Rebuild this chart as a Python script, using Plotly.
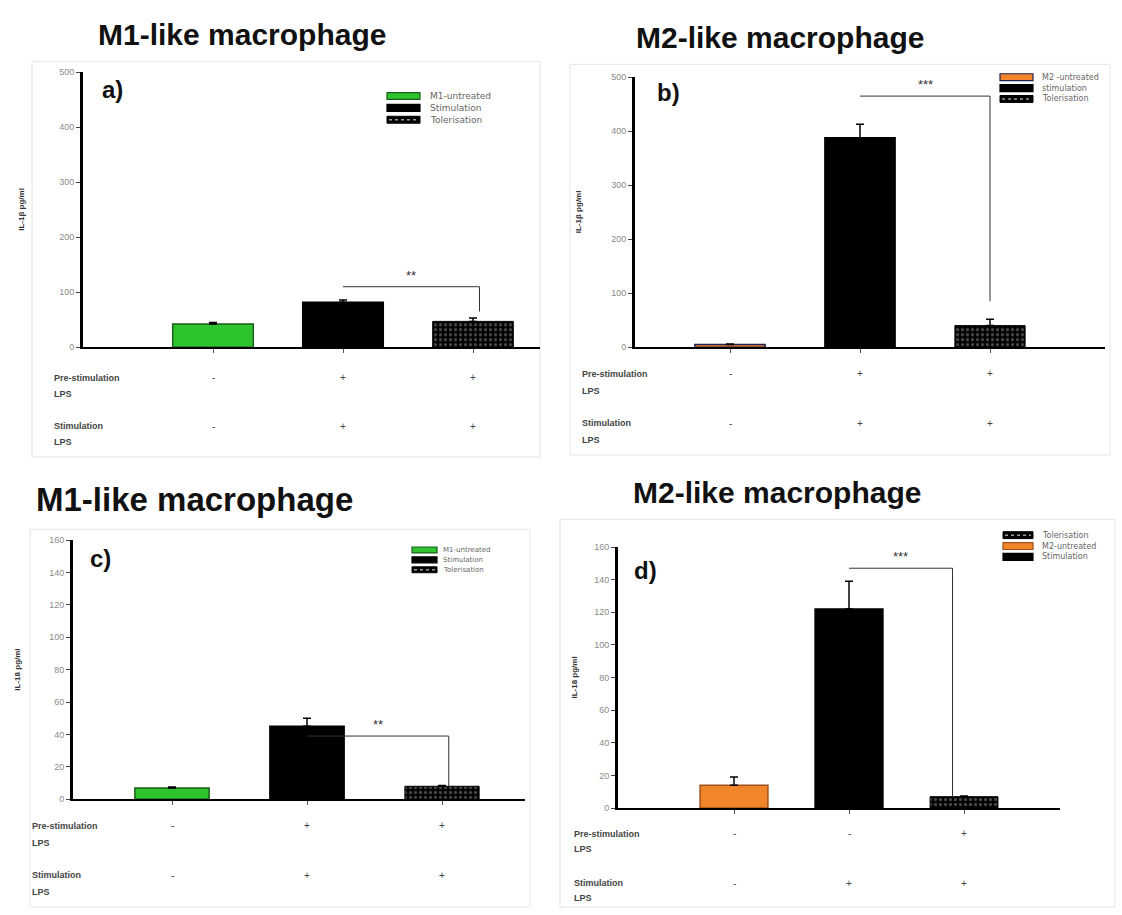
import plotly.graph_objects as go

W, H = 1122, 915
FONT = "Liberation Sans"
LEG_FONT = "DejaVu Sans"

# ---------------- data ----------------
a_names = ["M1-untreated", "Stimulation", "Tolerisation"]
a_vals = [42, 82, 47]
a_err = [3, 4, 6]

b_names = ["M2 -untreated", "stimulation", "Tolerisation"]
b_vals = [5, 388, 40]
b_err = [1, 25, 12]

c_names = ["M1-untreated", "Stimulation", "Tolerisation"]
c_vals = [7, 45, 8]
c_err = [0.5, 5, 0.5]

d_names = ["M2-untreated", "Stimulation", "Tolerisation"]
d_vals = [14, 122, 7]
d_err = [5, 17, 0.5]

pre_lps_ab = ["-", "+", "+"]
stim_lps_ab = ["-", "+", "+"]
pre_lps_c = ["-", "+", "+"]
stim_lps_c = ["-", "+", "+"]
pre_lps_d = ["-", "-", "+"]
stim_lps_d = ["-", "+", "+"]

# significance brackets: (from group, to group, top value, bottom value, label)
a_sig = (1, 2.05, 110, 65, "**")
b_sig = (1, 2.0, 465, 85, "***")
c_sig = (1, 2.05, 39, 8, "**")
d_sig = (1, 1.9, 147, 7, "***")

GREEN = "#2ec42e"
ORANGE = "#f0852a"
NAVY = "#1c2454"


def fx(px):
    return px / W


def fy(py):
    return 1 - py / H


fig = go.Figure()
shapes, annotations = [], []
layout = {}

panels = [
    dict(key="", title="M1-like macrophage", letter="a)", names=a_names, vals=a_vals, err=a_err,
         colors=[GREEN, "black", "tol"], lines=["#1a5e1a", "black", "black"],
         order=[0, 1, 2], pre=pre_lps_ab, stim=stim_lps_ab, sig=a_sig,
         ytitle="IL-1β pg/ml", ymax=500, dtick=100,
         left=83, right=540, top=68, bottom=346, c0=213, sp=130, bw=0.62,
         frame=(32, 57, 540, 457), title_xy=(242, 30), title_size=30, letter_xy=(112, 85),
         leg=dict(x0=387, x1=420, rows=[92, 104, 116], h=7, tx=428, size=9), ytitle_x=22,
         rows=(377, 393, 426, 442), label_x=52),
    dict(key="2", title="M2-like macrophage", letter="b)", names=b_names, vals=b_vals, err=b_err,
         colors=[ORANGE, "black", "tol"], lines=[NAVY, "black", "black"],
         order=[0, 1, 2], pre=pre_lps_ab, stim=stim_lps_ab, sig=b_sig,
         ytitle="IL-1β pg/ml", ymax=500, dtick=100,
         left=635, right=1105, top=73, bottom=346, c0=730, sp=130, bw=0.54,
         frame=(570, 60, 1110, 455), title_xy=(780, 33), title_size=30, letter_xy=(668, 88),
         leg=dict(x0=1000, x1=1033, rows=[73, 84, 95], h=7, tx=1040, size=8), ytitle_x=578,
         rows=(373, 390, 423, 440), label_x=580),
    dict(key="3", title="M1-like macrophage", letter="c)", names=c_names, vals=c_vals, err=c_err,
         colors=[GREEN, "black", "tol"], lines=["#1a5e1a", "black", "black"],
         order=[0, 1, 2], pre=pre_lps_c, stim=stim_lps_c, sig=c_sig,
         ytitle="IL-18 pg/ml", ymax=160, dtick=20,
         left=73, right=525, top=541, bottom=803, c0=172, sp=135, bw=0.55,
         frame=(30, 530, 530, 912), title_xy=(194, 500), title_size=33, letter_xy=(100, 560),
         leg=dict(x0=412, x1=437, rows=[551, 561, 571], h=6, tx=441, size=7), ytitle_x=18,
         rows=(830, 847, 880, 897), label_x=30),
    dict(key="4", title="M2-like macrophage", letter="d)", names=d_names, vals=d_vals, err=d_err,
         colors=[ORANGE, "black", "tol"], lines=["#a0501a", "black", "black"],
         order=[2, 0, 1], pre=pre_lps_d, stim=stim_lps_d, sig=d_sig,
         ytitle="IL-18 pg/ml", ymax=160, dtick=20,
         left=618, right=1060, top=548, bottom=812, c0=734, sp=115, bw=0.59,
         frame=(560, 520, 1115, 912), title_xy=(777, 493), title_size=30, letter_xy=(645, 572),
         leg=dict(x0=1003, x1=1033, rows=[536, 547, 558], h=7, tx=1040, size=8), ytitle_x=575,
         rows=(838, 853, 888, 903), label_x=572),
]

for n, p in enumerate(panels):
    k = p["key"]
    xa, ya = "x" + k, "y" + k

    # bars
    for i in range(3):
        if p["colors"][i] == "tol":
            marker = dict(color="black", line=dict(color="black", width=1),
                          pattern=dict(shape=".", fgcolor="#8a8a8a", bgcolor="black",
                                       size=5, solidity=0.35))
        else:
            marker = dict(color=p["colors"][i], line=dict(color=p["lines"][i], width=1.5))
        fig.add_trace(go.Bar(
            x=[i], y=[p["vals"][i]], width=p["bw"], name=p["names"][i],
            marker=marker, xaxis=xa, yaxis=ya, showlegend=False,
            error_y=dict(type="data", symmetric=False, array=[p["err"][i]], arrayminus=[0],
                         color="black", thickness=1.5, width=4),
        ))

    x0 = (p["left"] - p["c0"]) / p["sp"]
    x1 = (p["right"] - p["c0"]) / p["sp"]
    layout["xaxis" + k] = dict(
        domain=[fx(p["left"]), fx(p["right"])], range=[x0, x1], anchor=ya,
        showline=True, linecolor="black", linewidth=2, showgrid=False, zeroline=False,
        tickvals=[0, 1, 2], ticktext=["", "", ""], ticks="outside", ticklen=4,
        tickcolor="#555", fixedrange=True,
    )
    layout["yaxis" + k] = dict(
        domain=[fy(p["bottom"]), fy(p["top"])], range=[0, p["ymax"]], dtick=p["dtick"],
        anchor=xa, showline=True, linecolor="black", linewidth=3, showgrid=False,
        zeroline=False, ticks="outside", ticklen=4, tickcolor="#444",
        tickfont=dict(family=FONT, size=9, color="#8a8a8a"), fixedrange=True,
    )

    # legend key: swatch + label for each group
    lg = p["leg"]
    for row, i in enumerate(p["order"]):
        ry = lg["rows"][row]
        y0, y1 = fy(ry + lg["h"] / 2), fy(ry - lg["h"] / 2)
        if p["colors"][i] == "tol":
            shapes.append(dict(type="rect", xref="paper", yref="paper", x0=fx(lg["x0"]), x1=fx(lg["x1"]),
                               y0=y0, y1=y1, fillcolor="black", line=dict(color="black", width=1)))
            shapes.append(dict(type="line", xref="paper", yref="paper", x0=fx(lg["x0"] + 2),
                               x1=fx(lg["x1"] - 2), y0=fy(ry), y1=fy(ry),
                               line=dict(color="#9a9a9a", width=1.5, dash="dot")))
        else:
            shapes.append(dict(type="rect", xref="paper", yref="paper", x0=fx(lg["x0"]), x1=fx(lg["x1"]),
                               y0=y0, y1=y1, fillcolor=p["colors"][i],
                               line=dict(color=p["lines"][i], width=1.2)))
        annotations.append(dict(xref="paper", yref="paper", x=fx(lg["tx"]), y=fy(ry),
                                text=p["names"][i], showarrow=False, xanchor="left", yanchor="middle",
                                font=dict(family=LEG_FONT, size=lg["size"], color="#666")))

    # panel frame
    fl, ft, fr, fb = p["frame"]
    shapes.append(dict(type="rect", xref="paper", yref="paper",
                       x0=fx(fl), x1=fx(fr), y0=fy(fb), y1=fy(ft),
                       line=dict(color="#e4e4e4", width=1), layer="below"))

    # significance bracket
    g0, g1, top, bot, stars = p["sig"]
    shapes.append(dict(type="path", xref=xa, yref=ya,
                       path=f"M {g0},{top} L {g1},{top} L {g1},{bot}",
                       line=dict(color="#333", width=1)))
    annotations.append(dict(xref=xa, yref=ya, x=(g0 + g1) / 2, y=top,
                            text=stars, showarrow=False, yanchor="bottom", yshift=2,
                            font=dict(family=FONT, size=13, color="#333")))

    # titles and panel letters
    annotations.append(dict(xref="paper", yref="paper", x=fx(p["title_xy"][0]),
                            y=fy(p["title_xy"][1]), text="<b>" + p["title"] + "</b>",
                            showarrow=False, xanchor="center", yanchor="middle",
                            font=dict(family=FONT, size=p["title_size"], color="#111")))
    annotations.append(dict(xref="paper", yref="paper", x=fx(p["letter_xy"][0]),
                            y=fy(p["letter_xy"][1]), text="<b>" + p["letter"] + "</b>",
                            showarrow=False, xanchor="center", yanchor="middle",
                            font=dict(family=FONT, size=24, color="#111")))
    # y axis title
    annotations.append(dict(xref="paper", yref="paper", x=fx(p["ytitle_x"]),
                            y=fy((p["top"] + p["bottom"]) / 2), text="<b>" + p["ytitle"] + "</b>",
                            textangle=-90, showarrow=False, xanchor="center", yanchor="middle",
                            font=dict(family=FONT, size=8, color="#333")))

    # treatment table below the axis
    r_pre, r_pre2, r_st, r_st2 = p["rows"]
    for txt, ry in (("Pre-stimulation", r_pre), ("LPS", r_pre2), ("Stimulation", r_st), ("LPS", r_st2)):
        annotations.append(dict(xref="paper", yref="paper", x=fx(p["label_x"]), y=fy(ry),
                                text="<b>" + txt + "</b>", showarrow=False,
                                xanchor="left", yanchor="middle",
                                font=dict(family=FONT, size=9, color="#444")))
    for signs, ry in ((p["pre"], r_pre), (p["stim"], r_st)):
        for i, s in enumerate(signs):
            annotations.append(dict(xref=xa, yref="paper", x=i, y=fy(ry), text=s,
                                    showarrow=False, xanchor="center", yanchor="middle",
                                    font=dict(family=FONT, size=10, color="#444")))

fig.update_layout(
    width=W, height=H, autosize=False, margin=dict(l=0, r=0, t=0, b=0),
    paper_bgcolor="white", plot_bgcolor="white", barmode="overlay", showlegend=False,
    font=dict(family=FONT), shapes=shapes, annotations=annotations, **layout,
)

fig.write_html("out.html")
